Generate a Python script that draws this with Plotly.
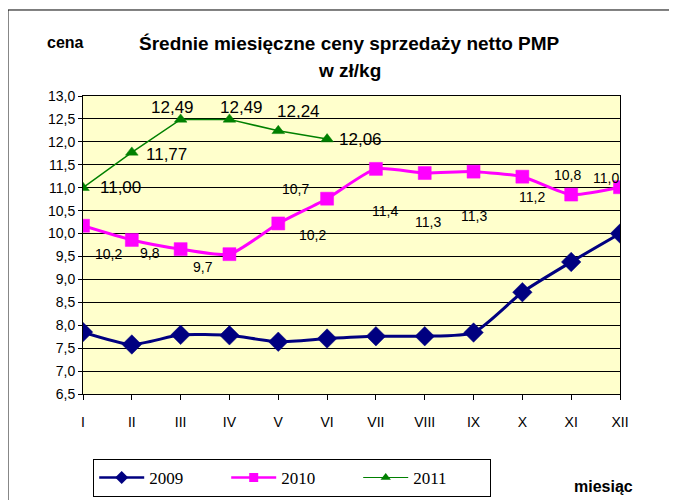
import plotly.graph_objects as go

months = ["I", "II", "III", "IV", "V", "VI", "VII", "VIII", "IX", "X", "XI", "XII"]
y2009 = [7.85, 7.58, 7.79, 7.78, 7.64, 7.71, 7.76, 7.76, 7.84, 8.72, 9.38, 10.0]
y2010 = [10.17, 9.86, 9.66, 9.55, 10.22, 10.76, 11.41, 11.32, 11.35, 11.24, 10.85, 11.01]
y2011 = [11.00, 11.77, 12.49, 12.49, 12.24, 12.06]
labels_2010 = ["10,2", "9,8", "9,7", None, "10,2", "10,7", "11,4", "11,3", "11,3", "11,2", "10,8", "11,0"]
labels_2011 = ["11,00", "11,77", "12,49", "12,49", "12,24", "12,06"]
yticks = [6.5 + 0.5 * i for i in range(14)]

# label offsets (px) - styling only
off_2010 = [(25, -28), (18, -13), (22, -18), None, (34, -12), (-32, 10), (9, -42),
            (3, -49), (0, -44), (10, -20), (-4, 20), (-14, 9)]
off_2011 = [(37, 0), (35, -2), (-8, 12), (12, 12), (20, 19), (33, 0)]

xs = list(range(len(months)))
FONT = "Liberation Sans, Arial, sans-serif"

series = [
    ("2009", y2009, "#000080", 3, True, dict(symbol="diamond", size=15), dict(symbol="diamond", size=10), 2.5),
    ("2010", y2010, "#FF00FF", 3, True, dict(symbol="square", size=13), dict(symbol="square", size=9), 2.5),
    ("2011", y2011, "#008000", 1.5, False, dict(symbol="triangle-up", size=11), dict(symbol="triangle-up", size=9), 1.2),
]

fig = go.Figure()
for name, ys, col, lw, smooth, mk, lmk, llw in series:
    line = dict(color=col, width=lw)
    if smooth:
        line.update(shape="spline", smoothing=0.6)
    fig.add_trace(go.Scatter(
        x=xs[:len(ys)], y=ys, name=name, mode="lines+markers", showlegend=False,
        line=line, marker=dict(color=col, line=dict(color=col, width=0.5), **mk)))
for name, ys, col, lw, smooth, mk, lmk, llw in series:
    # legend-only entry (no data drawn)
    fig.add_trace(go.Scatter(
        x=[None], y=[None], name=name, mode="lines+markers", showlegend=True,
        line=dict(color=col, width=llw), marker=dict(color=col, **lmk)))

ann = []
for i, t in enumerate(labels_2010):
    if t is None:
        continue
    dx, dy = off_2010[i]
    ann.append(dict(x=xs[i], y=y2010[i], xref="x", yref="y", text=t, showarrow=False,
                    xshift=dx, yshift=dy, font=dict(family=FONT, size=14, color="black")))
for i, t in enumerate(labels_2011):
    dx, dy = off_2011[i]
    ann.append(dict(x=xs[i], y=y2011[i], xref="x", yref="y", text=t, showarrow=False,
                    xshift=dx, yshift=dy, font=dict(family=FONT, size=17, color="black")))

ann += [
    dict(x=0.497, y=1.1745, xref="paper", yref="paper", showarrow=False,
         xanchor="center", yanchor="middle",
         text="<b>Średnie miesięczne ceny sprzedaży netto PMP</b>",
         font=dict(family=FONT, size=19, color="black")),
    dict(x=0.497, y=1.087, xref="paper", yref="paper", showarrow=False,
         xanchor="center", yanchor="middle",
         text="<b>w zł/kg</b>", font=dict(family=FONT, size=19, color="black")),
    dict(x=-0.032, y=1.181, xref="paper", yref="paper", showarrow=False,
         xanchor="center", yanchor="middle",
         text="<b>cena</b>", font=dict(family=FONT, size=16, color="black")),
    dict(x=0.970, y=-0.309, xref="paper", yref="paper", showarrow=False,
         xanchor="center", yanchor="middle",
         text="<b>miesiąc</b>", font=dict(family=FONT, size=16, color="black")),
]

fig.update_layout(
    width=677, height=500,
    margin=dict(l=75, r=65, t=88, b=114, autoexpand=False),
    paper_bgcolor="white", plot_bgcolor="#FFFFCC",
    separators=", ",
    font=dict(family=FONT, size=14, color="black"),
    annotations=ann,
    showlegend=True,
    legend=dict(orientation="h", x=0.019, y=-0.218, xanchor="left", yanchor="top",
                bordercolor="black", borderwidth=1, bgcolor="white",
                font=dict(family="Liberation Serif, Times New Roman, serif", size=17),
                entrywidth=72, itemwidth=45),
    shapes=[dict(type="rect", xref="paper", yref="paper",
                 x0=-0.1397, x1=1.0968, y0=-0.4, y1=1.2886,
                 line=dict(color="black", width=1))],
)
fig.update_xaxes(range=[0, 11], tickvals=xs, ticktext=months, showgrid=False,
                 showline=True, linecolor="black", linewidth=1, mirror=True,
                 ticks="outside", ticklen=5, tickcolor="black", zeroline=False,
                 ticklabelstandoff=10, tickfont=dict(size=14))
fig.update_yaxes(range=[6.5, 13.0], tickvals=yticks, tickformat=".1f",
                 showgrid=True, gridcolor="black", gridwidth=1,
                 showline=True, linecolor="black", linewidth=1, mirror=True,
                 ticks="outside", ticklen=4, tickcolor="black", zeroline=False,
                 tickfont=dict(size=14))

fig.write_html("out.html")
